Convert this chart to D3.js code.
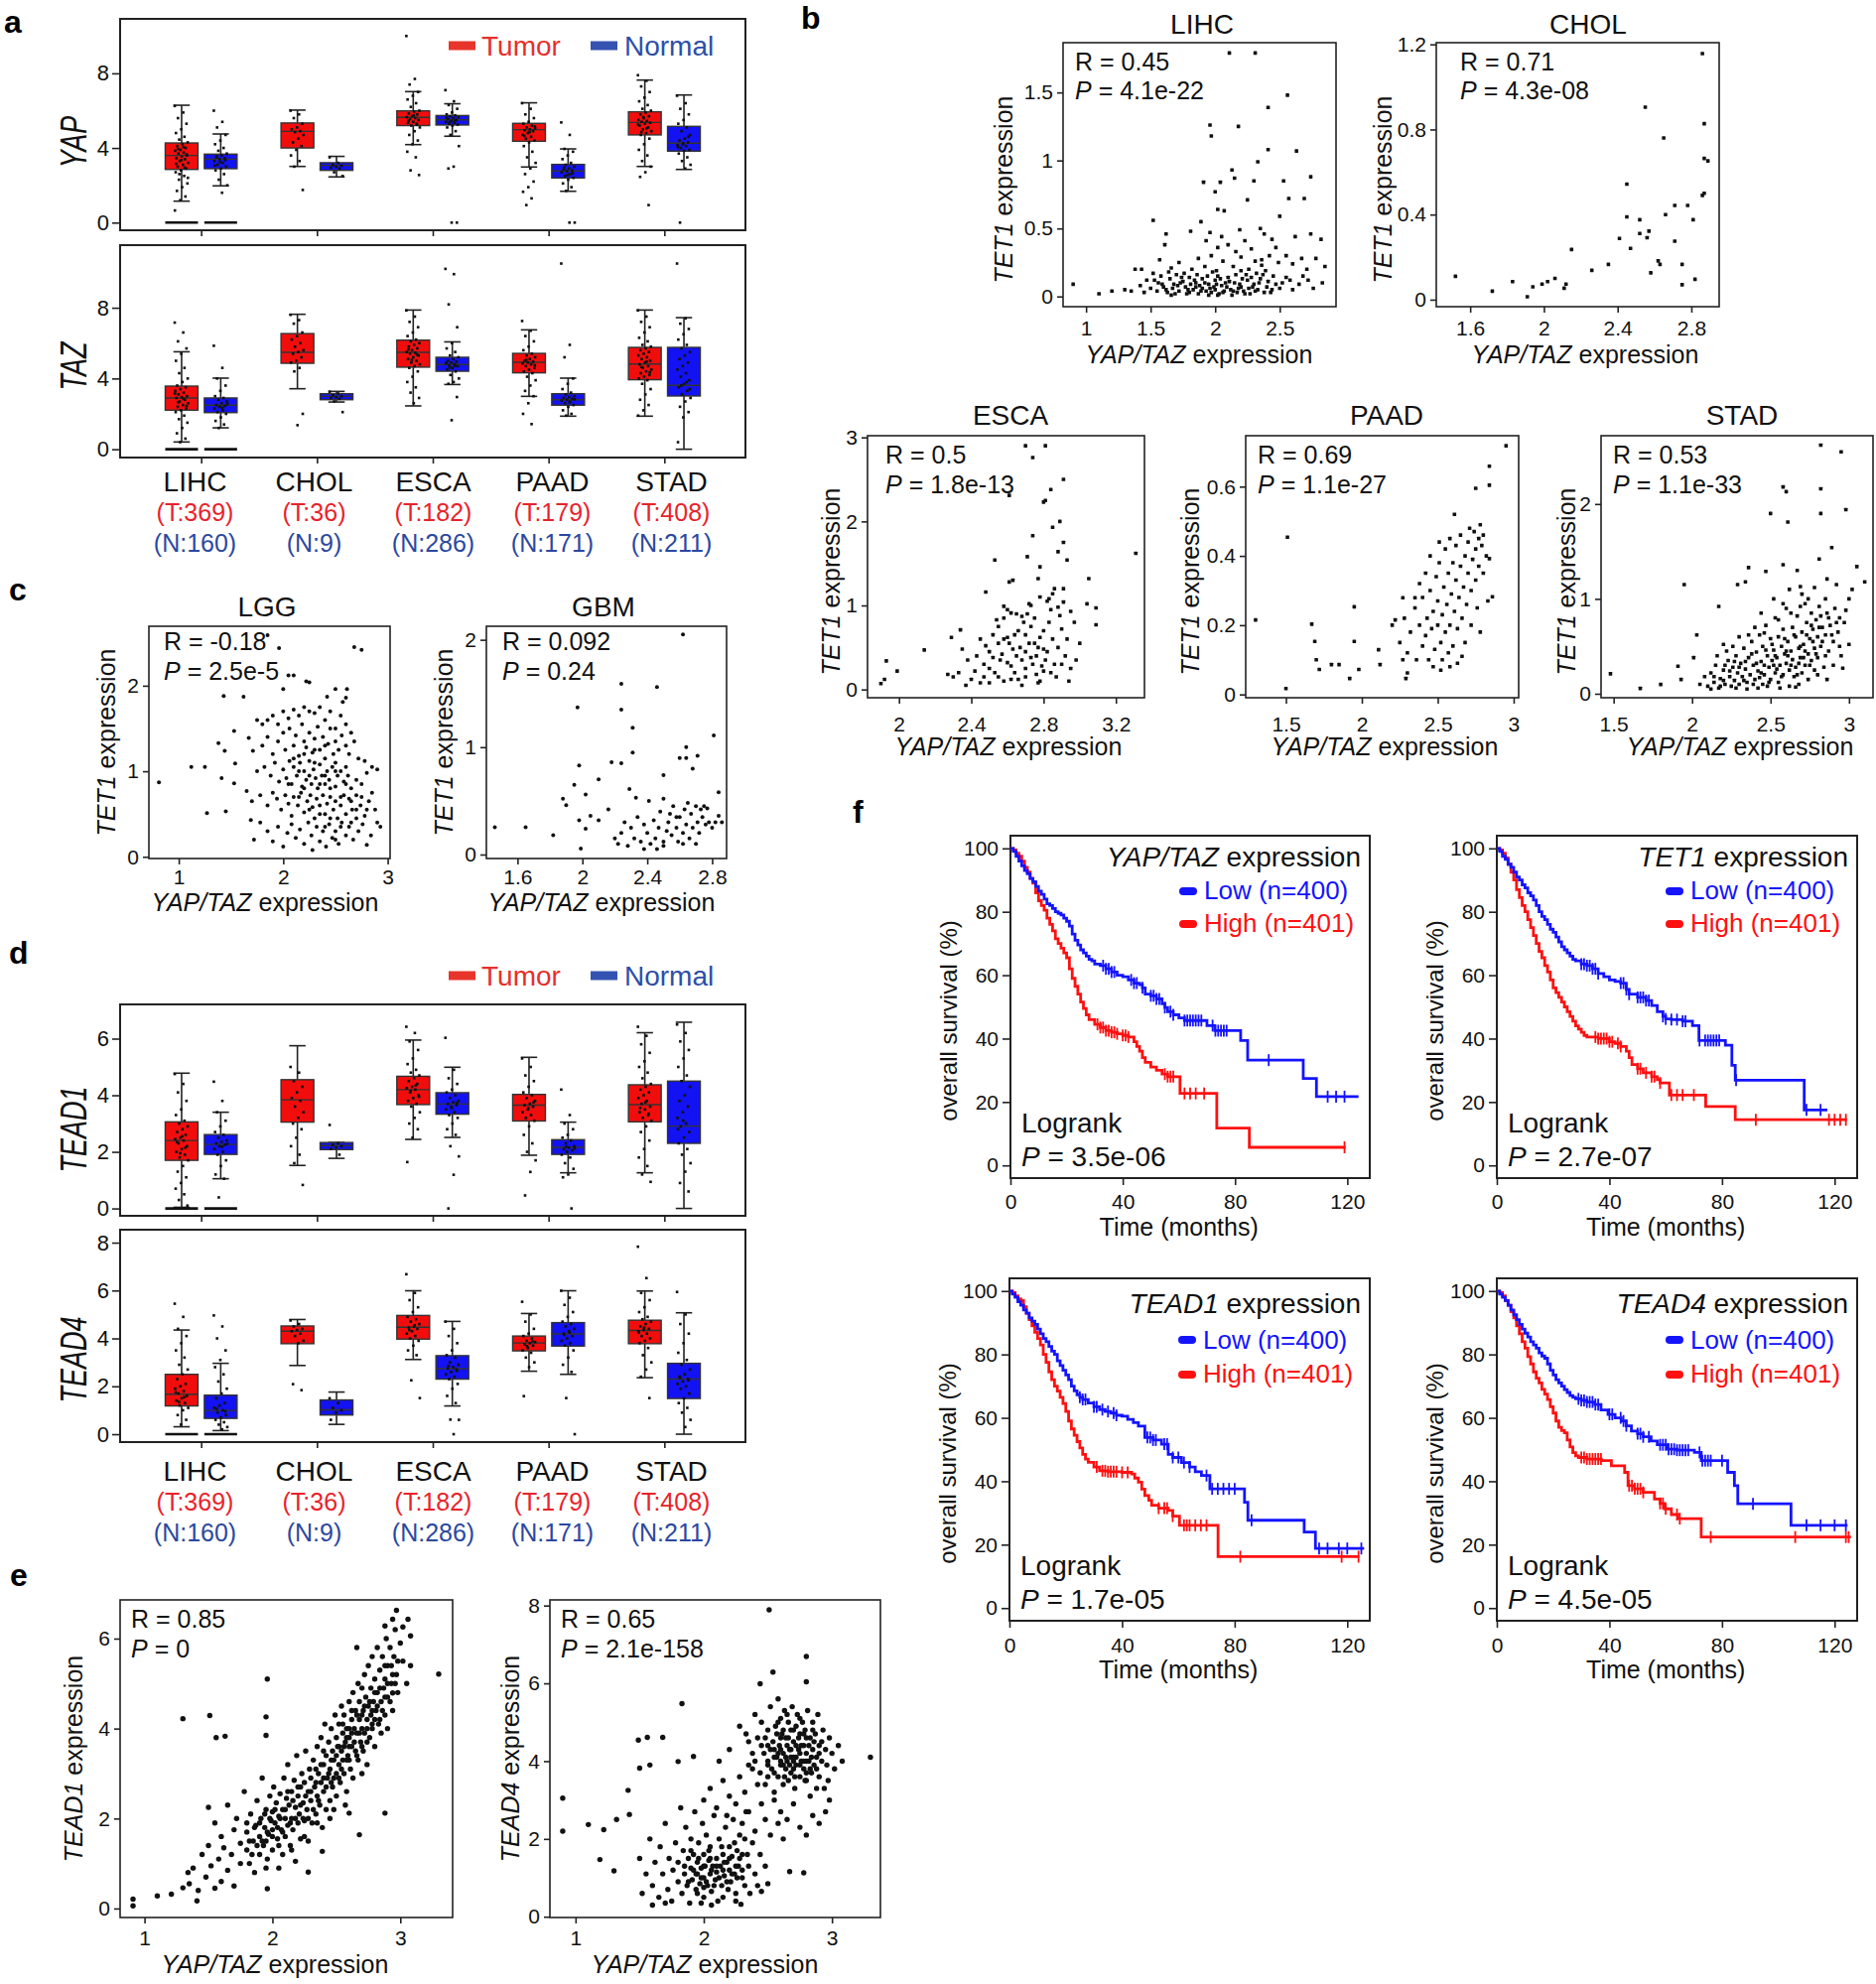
<!DOCTYPE html>
<html>
<head>
<meta charset="utf-8">
<script src="https://cdn.jsdelivr.net/npm/d3@7/dist/d3.min.js"></script>
<style>
html,body{margin:0;padding:0;background:#fff;}
svg{display:block;}
</style>
</head>
<body>
<svg id="fig" width="1890" height="1999" xmlns="http://www.w3.org/2000/svg"></svg>
<script>
// ================= DATA =================
const cancers = ["LIHC","CHOL","ESCA","PAAD","STAD"];
const tumorN  = [369,36,182,179,408];
const normalN = [160,9,286,171,211];

// box stats, order LIHC-T, LIHC-N, CHOL-T, CHOL-N, ... : [q1, median, q3, whiskerLow, whiskerHigh]
const yapStats = [[2.85,3.60,4.27,1.15,6.29],[2.89,3.40,3.67,1.97,4.75],[4.00,4.89,5.34,3.01,6.03],[2.80,3.07,3.21,2.45,3.55],[5.20,5.64,5.99,4.18,7.02],[5.23,5.51,5.74,4.63,6.37],[4.36,4.98,5.32,2.98,6.42],[2.39,2.77,3.12,1.68,3.95],[4.70,5.37,5.94,3.01,7.64],[3.83,4.26,5.16,2.85,6.84]];
const tazStats = [[2.21,2.90,3.57,0.41,5.51],[2.07,2.49,2.90,1.21,4.02],[4.86,5.48,6.54,3.42,7.63],[2.80,2.99,3.14,2.67,3.27],[4.64,5.48,6.17,2.45,7.87],[4.41,4.79,5.20,3.66,6.07],[4.32,4.92,5.42,2.99,6.75],[2.49,2.80,3.14,1.87,4.02],[3.93,4.82,5.76,1.87,7.87],[3.01,3.61,5.76,0,7.44]];
const tead1Stats = [[1.70,2.40,3.06,0.04,4.78],[1.91,2.26,2.61,1.05,3.40],[3.05,3.84,4.55,1.52,5.75],[2.08,2.22,2.33,1.77,2.33],[3.67,4.20,4.67,2.44,5.95],[3.33,3.69,4.09,2.51,4.99],[3.09,3.65,4.03,1.88,5.34],[1.91,2.16,2.43,1.26,3.05],[3.06,3.67,4.37,1.26,6.21],[2.30,2.91,4.50,0,6.58]];
const tead4Stats = [[1.18,1.67,2.50,0.31,4.35],[0.66,0.99,1.63,0.15,2.96],[3.78,4.30,4.52,2.87,4.79],[0.80,1.02,1.43,0.41,1.76],[3.97,4.47,4.96,3.12,5.99],[2.30,2.74,3.28,1.18,4.71],[3.48,3.81,4.10,2.63,5.04],[3.68,4.19,4.66,2.50,5.99],[3.78,4.33,4.76,2.36,5.98],[1.49,2.30,2.96,0,5.07]];
// boxes with a dense row of zero values
const yapZero = [1,1,0,0,0,0,0,0,0,0];
const tazZero = [1,1,0,0,0,0,0,0,0,0];
const tead1Zero = [1,1,0,0,0,0,0,0,0,0];
const tead4Zero = [1,1,0,0,0,0,0,0,0,0];

// jittered sample values per box
const yapPts = [
 [6.25,5.9,5.6,5.3,5.0,4.8,4.6,4.45,4.3,4.2,4.1,4.0,3.9,3.85,3.75,3.7,3.6,3.55,3.45,3.4,3.3,3.2,3.1,3.0,2.9,2.8,2.7,2.5,2.3,2.1,1.9,1.7,1.4,1.2,0.65,4.05,3.95,3.65,3.35,3.15,2.95,2.6,2.4],
 [6.0,5.4,5.1,4.7,4.4,4.2,4.0,3.85,3.7,3.6,3.5,3.45,3.4,3.3,3.2,3.1,3.0,2.9,2.8,2.6,2.3,2.0,1.6,3.55,3.35,3.25,3.05],
 [6.0,5.8,5.6,5.3,5.1,5.0,4.9,4.85,4.7,4.5,4.3,4.1,3.9,3.6,3.3,3.0,1.75],
 [3.5,3.2,3.1,3.05,3.0,2.95,2.9,2.7,2.5],
 [10.0,7.7,7.4,7.0,6.8,6.6,6.4,6.2,6.0,5.95,5.85,5.8,5.7,5.65,5.6,5.55,5.5,5.4,5.35,5.3,5.2,5.1,4.9,4.7,4.4,4.2,3.8,3.5,2.8,2.55,5.75,5.45,5.25],
 [7.1,6.5,6.3,6.1,5.9,5.8,5.75,5.7,5.65,5.6,5.55,5.5,5.45,5.4,5.35,5.3,5.25,5.2,5.1,4.9,4.7,4.1,3.0,2.9,0,0,5.62,5.48,5.38],
 [6.4,6.1,5.8,5.6,5.4,5.3,5.2,5.1,5.05,5.0,4.95,4.9,4.8,4.7,4.6,4.5,4.4,4.3,4.1,3.8,3.5,3.2,2.9,2.6,2.2,1.9,1.65,1.3,0.94,5.15,4.85,4.65],
 [5.37,4.7,3.95,3.8,3.6,3.4,3.2,3.1,3.0,2.9,2.85,2.8,2.75,2.7,2.6,2.5,2.4,2.3,2.1,1.9,1.7,0,0,2.95,2.65,2.55],
 [7.9,7.6,7.3,7.0,6.7,6.5,6.3,6.1,6.0,5.9,5.8,5.7,5.6,5.5,5.45,5.4,5.35,5.3,5.2,5.1,5.0,4.9,4.8,4.7,4.5,4.2,3.9,3.6,3.3,3.0,2.7,2.45,0.94,5.65,5.25,5.05,4.85],
 [6.8,6.4,6.1,5.8,5.5,5.3,5.1,4.9,4.7,4.5,4.4,4.3,4.2,4.15,4.1,4.0,3.9,3.85,3.7,3.5,3.3,3.1,2.9,0,4.6,4.25,4.05]
];
const tazPts = [
 [7.16,6.6,6.1,5.7,5.4,5.0,4.6,4.3,4.0,3.8,3.6,3.5,3.4,3.3,3.2,3.1,3.0,2.95,2.9,2.8,2.7,2.6,2.5,2.4,2.3,2.2,2.1,1.9,1.7,1.5,1.2,0.9,0.6,0.4,3.15,2.85,2.65,2.45],
 [5.85,4.6,4.0,3.6,3.3,3.0,2.9,2.8,2.7,2.6,2.5,2.45,2.4,2.3,2.2,2.1,2.0,1.8,1.6,1.4,1.2,2.55,2.35],
 [7.6,7.3,7.1,6.6,6.4,6.2,6.0,5.8,5.6,5.5,5.4,5.2,5.0,4.9,4.6,4.4,2.0,1.36],
 [3.25,3.15,3.05,3.0,2.95,2.9,2.85,2.7,2.1],
 [7.85,7.5,7.2,6.9,6.6,6.4,6.2,6.1,6.0,5.9,5.8,5.7,5.6,5.5,5.45,5.4,5.3,5.2,5.1,5.0,4.9,4.8,4.7,4.6,4.4,4.1,3.8,3.5,3.2,2.9,2.6,5.65,5.35,5.05],
 [10.2,9.9,8.19,6.9,6.0,5.7,5.5,5.3,5.2,5.1,5.0,4.95,4.9,4.85,4.8,4.75,4.7,4.6,4.5,4.4,4.2,4.0,3.8,3.7,2.95,1.64,4.88,4.72,4.62],
 [7.25,6.7,6.4,6.1,5.8,5.6,5.4,5.3,5.2,5.1,5.0,4.95,4.9,4.85,4.8,4.7,4.6,4.5,4.4,4.3,4.1,3.9,3.6,3.3,3.0,2.6,2.0,1.42,5.05,4.75],
 [10.5,5.9,5.2,4.0,3.7,3.4,3.2,3.1,3.0,2.95,2.9,2.85,2.8,2.75,2.7,2.6,2.5,2.4,2.2,2.0,1.9,2.82,2.65],
 [7.85,7.5,7.2,6.9,6.6,6.3,6.1,5.9,5.8,5.7,5.6,5.5,5.4,5.3,5.2,5.1,5.0,4.9,4.8,4.7,4.6,4.5,4.4,4.3,4.2,4.1,4.0,3.9,3.7,3.4,3.1,2.8,2.5,2.2,1.9,4.95,4.65,4.35],
 [10.5,7.4,7.1,6.8,6.5,6.2,5.9,5.7,5.5,5.3,5.1,4.9,4.7,4.5,4.3,4.1,3.9,3.7,3.5,3.3,3.1,2.9,2.7,2.4,2.1,1.8,0.4,3.8,3.6,3.4]
];
const tead1Pts = [
 [4.75,4.4,4.1,3.8,3.5,3.3,3.1,3.0,2.9,2.8,2.7,2.6,2.5,2.45,2.4,2.3,2.2,2.1,2.0,1.9,1.8,1.7,1.5,1.3,1.1,0.9,0.7,0.5,0.3,0.1,2.55,2.35,2.15,1.95],
 [4.48,3.8,3.4,3.1,2.9,2.7,2.6,2.5,2.4,2.35,2.3,2.25,2.2,2.1,2.0,1.9,1.7,1.5,1.2,1.05,0.39,2.28,2.18],
 [5.0,4.8,4.5,4.3,4.1,3.9,3.8,3.6,3.4,3.2,3.0,2.8,2.5,2.2,1.9,1.6,0.83],
 [2.95,2.3,2.25,2.2,2.15,2.1,1.9],
 [6.42,6.2,5.9,5.6,5.3,5.1,4.9,4.8,4.7,4.6,4.5,4.4,4.3,4.25,4.2,4.1,4.0,3.9,3.8,3.7,3.6,3.4,3.2,3.0,2.8,2.5,1.64,4.35,4.15,3.95],
 [6.03,4.9,4.6,4.4,4.2,4.1,4.0,3.9,3.8,3.75,3.7,3.65,3.6,3.5,3.4,3.3,3.2,3.0,2.8,2.6,2.2,1.84,1.19,0,3.72,3.55],
 [5.3,5.0,4.7,4.5,4.3,4.1,4.0,3.9,3.8,3.7,3.65,3.6,3.5,3.4,3.3,3.2,3.1,2.9,2.6,2.3,2.0,1.7,1.29,0.46,3.75,3.55],
 [4.2,3.3,3.0,2.8,2.6,2.5,2.4,2.3,2.2,2.15,2.1,2.05,2.0,1.9,1.8,1.6,1.4,1.2,1.1,0,2.18,2.12],
 [6.42,6.1,5.8,5.5,5.2,5.0,4.8,4.6,4.4,4.3,4.2,4.1,4.0,3.9,3.8,3.7,3.6,3.5,3.4,3.3,3.2,3.1,2.9,2.7,2.4,2.1,1.8,1.5,1.2,0.94,3.75,3.55,3.35],
 [6.5,6.2,5.9,5.6,5.3,5.0,4.7,4.5,4.3,4.0,3.8,3.6,3.4,3.2,3.0,2.9,2.7,2.5,2.3,2.1,1.9,1.6,1.3,0.9,0.6,3.1,2.8]
];
const tead4Pts = [
 [5.45,4.9,4.4,4.1,3.8,3.5,3.2,2.9,2.7,2.5,2.3,2.1,2.0,1.9,1.8,1.7,1.6,1.5,1.4,1.3,1.2,1.1,1.0,0.8,0.6,0.4,1.75,1.55,1.35],
 [4.96,4.5,4.0,3.5,3.1,2.8,2.5,2.2,1.9,1.7,1.5,1.3,1.2,1.1,1.0,0.9,0.8,0.7,0.6,0.5,0.4,0.3,0.2,1.05,0.95],
 [4.75,4.6,4.5,4.4,4.35,4.3,4.2,4.1,3.9,3.8,2.09,1.84],
 [1.5,1.3,1.1,1.0,0.9,0.6],
 [6.68,5.9,5.6,5.3,5.1,4.9,4.8,4.7,4.6,4.5,4.45,4.4,4.3,4.2,4.1,4.0,3.9,3.7,3.5,3.3,2.25,1.51,4.55,4.35],
 [4.7,4.4,4.1,3.8,3.5,3.3,3.2,3.0,2.9,2.8,2.75,2.7,2.6,2.5,2.4,2.3,2.1,1.9,1.6,1.3,0.61,0.6,0,2.85,2.65],
 [5.53,5.0,4.7,4.4,4.2,4.1,4.0,3.9,3.85,3.8,3.75,3.7,3.6,3.5,3.4,3.2,3.0,2.8,1.59,3.88,3.68],
 [5.99,5.7,5.4,5.1,4.9,4.7,4.6,4.5,4.4,4.3,4.2,4.1,4.0,3.9,3.8,3.7,3.5,3.2,2.9,2.6,1.51,0,4.25,4.15],
 [7.83,6.52,5.9,5.6,5.3,5.1,4.9,4.8,4.7,4.6,4.5,4.4,4.35,4.3,4.2,4.1,4.0,3.9,3.8,3.6,3.3,3.0,2.7,2.4,1.51,4.45,4.25],
 [5.94,5.0,4.6,4.2,3.8,3.4,3.1,2.9,2.7,2.5,2.4,2.3,2.2,2.1,2.0,1.9,1.7,1.5,1.3,1.1,0.9,0.6,0.3,2.35,2.25]
];

// scatter points, flat [x, y, x, y, ...]
const lihcPts = [2.11,1.79,2.31,1.79,2.56,1.48,2.41,1.39,1.96,1.26,2.18,1.25,1.97,1.18,2.41,1.08,2.63,1.07,2.33,0.99,2.13,0.93,1.91,0.84,2.04,0.84,2.15,0.87,2.30,0.85,2.53,0.85,2.74,0.88,2.0,0.77,2.25,0.71,2.57,0.72,2.69,0.72,2.02,0.64,2.07,0.63,2.5,0.59,1.52,0.56,1.89,0.55,1.81,0.48,1.62,0.46,1.96,0.47,2.05,0.44,2.19,0.49,2.35,0.5,2.38,0.46,2.44,0.42,2.62,0.44,2.82,0.42,2.74,0.46,
1.61,0.38,1.93,0.41,2.02,0.36,2.1,0.38,2.16,0.33,2.23,0.41,2.28,0.35,2.47,0.36,2.55,0.3,2.67,0.28,2.78,0.28,1.57,0.27,1.72,0.25,1.87,0.28,1.97,0.3,2.06,0.26,2.14,0.22,2.2,0.29,2.31,0.26,2.36,0.23,2.42,0.3,2.49,0.25,2.6,0.24,2.71,0.2,2.85,0.22,1.66,0.21,1.82,0.2,1.92,0.22,2.01,0.19,2.26,0.2,2.39,0.19,
1.38,0.2,1.43,0.2,1.52,0.17,1.58,0.15,1.65,0.13,1.7,0.16,1.75,0.11,1.8,0.14,1.85,0.1,1.9,0.13,1.95,0.09,2.0,0.12,2.05,0.08,2.1,0.14,2.15,0.1,2.2,0.07,2.25,0.12,2.3,0.09,2.35,0.13,2.4,0.07,2.45,0.15,2.52,0.1,2.58,0.12,2.65,0.09,2.72,0.12,2.83,0.1,
1.5,0.06,1.55,0.04,1.6,0.07,1.63,0.03,1.67,0.06,1.72,0.04,1.77,0.07,1.8,0.03,1.83,0.05,1.87,0.02,1.9,0.06,1.93,0.04,1.97,0.03,2.0,0.05,2.03,0.02,2.07,0.04,2.12,0.05,2.17,0.03,2.22,0.04,2.27,0.02,2.33,0.05,2.38,0.03,1.45,0.03,1.35,0.04,1.3,0.05,1.2,0.04,1.1,0.02,0.9,0.09,1.42,0.08,1.56,0.1,1.68,0.09,1.73,0.1,1.88,0.08,1.99,0.07,2.08,0.1,2.18,0.06,2.29,0.07,2.44,0.05,2.5,0.06,1.62,0.05,1.78,0.02,1.95,0.01,2.13,0.01,1.69,0.02,1.84,0.12,2.02,0.15,2.24,0.16,2.32,0.17,1.76,0.17,1.98,0.18,
1.53,0.12,1.59,0.09,1.64,0.18,1.71,0.08,1.74,0.14,1.79,0.05,1.81,0.09,1.86,0.16,1.89,0.04,1.92,0.1,1.94,0.15,1.96,0.06,2.01,0.09,2.04,0.13,2.06,0.03,2.09,0.07,2.11,0.11,2.14,0.04,2.16,0.16,2.19,0.09,2.21,0.13,2.23,0.02,2.26,0.06,2.28,0.14,2.31,0.04,2.34,0.1,2.37,0.16,2.41,0.11,2.43,0.03,2.47,0.09,2.55,0.14,2.6,0.05,2.68,0.15,2.76,0.06,1.47,0.12,1.66,0.01,1.85,0.07,2.02,0.01,2.2,0.19,2.36,0.27];
const cholPts = [1.52,0.11,1.72,0.04,1.83,0.085,1.91,0.014,1.94,0.06,1.99,0.073,2.02,0.085,2.06,0.1,2.11,0.054,2.12,0.073,2.15,0.236,2.26,0.138,2.35,0.166,2.41,0.288,2.45,0.543,2.45,0.389,2.47,0.241,2.52,0.376,2.52,0.311,2.56,0.291,2.55,0.905,2.57,0.322,2.58,0.126,2.62,0.182,2.63,0.166,2.65,0.76,2.66,0.4,2.71,0.443,2.71,0.275,2.75,0.07,2.75,0.166,2.78,0.443,2.81,0.376,2.82,0.096,2.86,1.157,2.87,0.827,2.87,0.664,2.89,0.652,2.87,0.5,2.86,0.49];
const escaPts = [2.7,2.9,2.81,2.9,2.74,2.76,2.91,2.5,2.84,2.38,2.61,2.31,2.81,2.25,2.8,2.23,2.85,1.93,2.89,2.0,2.74,1.83,2.91,1.75,3.31,1.62,2.53,1.54,2.71,1.58,2.88,1.64,2.93,1.54,2.78,1.46,2.48,1.16,2.63,1.3,2.77,1.32,3.05,1.32,2.61,1.28,2.91,1.2,2.85,1.14,2.83,1.08,2.91,1.04,2.72,1.02,3.04,1.02,3.09,0.97,2.95,0.93,3.09,0.77,2.58,0.99,2.62,0.91,2.68,0.87,2.54,0.83,2.34,0.71,2.29,0.62,2.14,0.47,1.93,0.34,1.99,0.22,1.92,0.12,1.9,0.07,
2.45,0.6,2.48,0.52,2.5,0.45,2.52,0.38,2.47,0.3,2.5,0.25,2.53,0.2,2.55,0.15,2.58,0.1,2.6,0.32,2.57,0.42,2.55,0.55,2.6,0.62,2.63,0.48,2.65,0.4,2.62,0.28,2.64,0.2,2.66,0.12,2.68,0.05,2.7,0.25,2.68,0.35,2.7,0.45,2.72,0.55,2.7,0.65,2.73,0.75,2.75,0.85,2.74,0.3,2.76,0.4,2.77,0.5,2.78,0.62,2.76,0.18,2.78,0.1,2.8,0.22,2.81,0.35,2.82,0.45,2.8,0.7,2.83,0.8,2.84,0.95,2.85,0.6,2.86,0.3,2.87,0.15,2.88,0.5,2.9,0.72,2.89,0.88,2.92,0.4,2.93,0.6,2.95,0.25,2.43,0.4,2.42,0.22,2.4,0.12,2.38,0.35,2.37,0.05,2.33,0.2,2.3,0.15,2.27,0.18,2.35,0.48,2.55,0.75,2.58,0.85,2.6,0.95,2.52,0.65,2.66,0.7,2.69,0.8,2.71,0.9,2.73,1.0,2.78,1.1,2.82,1.05,2.86,1.2,2.88,0.98,2.97,0.8,3.0,0.55,2.98,0.35,2.5,0.08,2.56,0.35,2.61,0.55,2.64,0.65,2.67,0.5,2.7,0.15,2.73,0.38,2.79,0.28,2.84,0.2,2.47,0.15,2.45,0.08,2.65,0.9,2.58,0.6,2.62,0.12,2.75,0.55,2.8,0.48,2.9,0.3,2.94,0.1,2.77,0.08];
const paadPts = [2.95,0.718,2.84,0.659,2.75,0.595,2.84,0.604,1.51,0.454,1.3,0.215,1.5,0.017,1.67,0.203,1.69,0.153,1.7,0.1,1.72,0.072,1.8,0.086,1.85,0.086,1.95,0.253,1.95,0.153,1.92,0.046,1.98,0.072,2.11,0.129,2.12,0.086,2.22,0.215,2.27,0.279,2.3,0.062,2.29,0.046,2.27,0.1,2.35,0.279,2.52,0.07,2.78,0.18,2.86,0.282,2.84,0.392,
2.2,0.2,2.25,0.15,2.28,0.22,2.3,0.12,2.32,0.18,2.35,0.25,2.36,0.1,2.38,0.2,2.4,0.14,2.4,0.28,2.42,0.17,2.43,0.22,2.44,0.1,2.45,0.3,2.46,0.19,2.47,0.24,2.48,0.13,2.49,0.34,2.5,0.2,2.5,0.27,2.51,0.38,2.52,0.15,2.53,0.23,2.54,0.31,2.55,0.42,2.55,0.18,2.56,0.26,2.57,0.35,2.58,0.2,2.58,0.45,2.59,0.29,2.6,0.38,2.6,0.14,2.61,0.24,2.62,0.33,2.62,0.43,2.63,0.19,2.64,0.28,2.65,0.37,2.65,0.46,2.66,0.22,2.67,0.31,2.68,0.4,2.68,0.15,2.69,0.26,2.7,0.35,2.7,0.44,2.71,0.48,2.72,0.3,2.72,0.2,2.73,0.39,2.74,0.47,2.75,0.42,2.75,0.33,2.76,0.25,2.77,0.45,2.77,0.37,2.78,0.49,2.79,0.43,2.8,0.46,2.8,0.35,2.82,0.4,2.83,0.27,2.57,0.12,2.53,0.1,2.47,0.08,2.63,0.09,2.66,0.11,2.45,0.4,2.42,0.35,2.38,0.32,2.58,0.08,2.51,0.44,2.61,0.52];
const stadPts = [2.82,2.62,2.95,2.55,2.58,2.18,2.6,2.13,2.82,2.16,2.5,1.9,2.82,1.9,2.98,1.94,2.61,1.81,2.89,1.54,3.05,1.34,3.1,1.18,2.81,1.42,2.36,1.33,1.95,1.15,1.48,0.21,1.67,0.056,1.8,0.098,1.91,0.29,1.93,0.15,2.01,0.38,2.03,0.62,2.17,0.92,2.2,0.52,2.29,1.15,2.34,1.18,2.47,1.29,2.58,1.36,2.67,1.3,2.69,1.13,2.86,1.21,2.92,1.15,3.0,1.0,2.94,0.8,3.0,0.52,2.96,0.27,
2.05,0.1,2.08,0.18,2.1,0.08,2.12,0.22,2.14,0.12,2.15,0.3,2.17,0.06,2.18,0.16,2.2,0.25,2.21,0.1,2.23,0.35,2.24,0.18,2.25,0.08,2.26,0.28,2.27,0.14,2.28,0.4,2.29,0.22,2.3,0.1,2.31,0.32,2.32,0.18,2.33,0.48,2.34,0.26,2.35,0.12,2.36,0.38,2.37,0.2,2.38,0.55,2.39,0.3,2.4,0.15,2.41,0.44,2.42,0.24,2.43,0.62,2.44,0.34,2.45,0.1,2.45,0.5,2.46,0.2,2.47,0.72,2.48,0.4,2.49,0.28,2.5,0.58,2.5,0.15,2.51,0.35,2.52,0.46,2.53,0.22,2.53,0.8,2.54,0.38,2.55,0.6,2.55,0.12,2.56,0.3,2.57,0.5,2.58,0.68,2.58,0.2,2.59,0.42,2.6,0.9,2.6,0.32,2.61,0.55,2.62,0.08,2.62,0.25,2.63,0.45,2.64,0.7,2.64,0.36,2.65,0.18,2.66,0.6,2.66,0.28,2.67,0.82,2.68,0.48,2.68,0.1,2.69,0.38,2.7,0.65,2.7,0.22,2.71,0.52,2.72,0.95,2.72,0.3,2.73,0.75,2.74,0.42,2.74,0.15,2.75,0.58,2.76,0.85,2.76,0.35,2.77,0.68,2.78,0.25,2.78,0.48,2.79,0.78,2.8,0.6,2.8,0.38,2.81,0.92,2.82,0.5,2.83,0.7,2.84,0.28,2.85,0.62,2.86,0.85,2.87,0.45,2.88,0.72,2.9,0.55,2.91,0.9,2.93,0.65,2.95,0.4,2.97,0.75,2.35,0.05,2.42,0.06,2.48,0.08,2.56,0.06,2.66,0.07,2.22,0.45,2.3,0.6,2.4,0.7,2.44,0.85,2.52,1.0,2.58,0.95,2.62,1.1,2.7,1.05,2.78,1.12,2.85,1.0,2.16,0.4,2.12,0.05,2.26,0.5,2.36,0.62,2.46,0.64,2.55,0.78,2.63,0.85,2.69,0.92,2.74,1.0,2.8,0.2,2.86,0.15,2.9,0.3,2.94,0.5,2.98,0.88,3.02,1.1,2.2,0.14,2.28,0.06,2.34,0.34,2.44,0.22,2.52,0.3,
2.3,0.28,2.33,0.14,2.38,0.42,2.41,0.32,2.43,0.17,2.47,0.46,2.49,0.12,2.51,0.52,2.54,0.26,2.57,0.18,2.59,0.58,2.61,0.4,2.63,0.3,2.65,0.62,2.67,0.2,2.69,0.5,2.71,0.38,2.73,0.62,2.75,0.3,2.77,0.55,2.79,0.42,2.81,0.7,2.83,0.55,2.85,0.4,2.87,0.8,2.89,0.62,2.21,0.3,2.24,0.24,2.27,0.34,2.39,0.1,2.46,0.3,2.53,0.4,2.6,0.45,2.68,0.32,2.72,0.45,2.76,0.72,2.82,0.82,2.92,0.75,2.18,0.08,2.14,0.18];
const lggPts = [0.81,0.87,1.12,1.05,1.25,1.05,1.27,0.51,1.38,1.33,1.41,0.92,1.43,1.88,1.44,1.24,1.45,0.53,1.53,1.47,1.53,0.86,1.54,1.09,1.62,1.87,1.65,0.77,1.67,1.39,1.69,0.43,1.71,1.24,1.85,2.59,1.96,2.44,2.68,2.45,2.75,2.42,2.05,2.12,2.1,2.12,2.22,2.05,2.0,1.96,2.25,2.04,2.42,1.87,2.5,1.96,2.61,1.96,2.6,1.86,2.57,1.81,
1.75,1.6,1.8,1.55,1.85,1.6,1.9,1.65,1.95,1.55,2.0,1.7,2.05,1.62,2.1,1.72,2.15,1.65,2.2,1.75,2.25,1.7,2.3,1.68,2.35,1.75,2.4,1.6,2.45,1.7,2.5,1.5,2.55,1.65,2.6,1.55,2.65,1.45,
1.8,1.3,1.85,1.4,1.9,1.2,1.95,1.35,2.0,1.45,2.02,1.25,2.06,1.5,2.1,1.3,2.12,1.42,2.15,1.18,2.18,1.55,2.2,1.35,2.22,1.28,2.25,1.45,2.28,1.22,2.3,1.38,2.33,1.52,2.35,1.25,2.38,1.4,2.4,1.15,2.43,1.32,2.45,1.5,2.48,1.2,2.5,1.35,2.53,1.25,2.56,1.42,2.6,1.3,2.63,1.2,2.68,1.35,2.72,1.15,2.78,1.12,
1.75,1.0,1.82,1.05,1.88,0.95,1.92,1.1,1.96,0.88,2.0,1.02,2.03,0.92,2.06,1.12,2.08,0.85,2.1,1.05,2.13,0.95,2.16,1.1,2.18,0.82,2.2,1.0,2.22,0.9,2.25,1.12,2.27,0.85,2.29,1.02,2.31,0.92,2.33,0.8,2.35,1.08,2.37,0.95,2.4,0.85,2.42,1.0,2.44,0.9,2.47,1.05,2.5,0.82,2.52,0.95,2.55,1.0,2.58,0.88,2.62,0.95,2.65,0.8,2.7,0.9,2.75,0.85,2.8,0.98,2.85,1.05,2.9,1.02,
1.7,0.65,1.78,0.72,1.85,0.6,1.9,0.75,1.94,0.68,1.98,0.55,2.02,0.72,2.05,0.62,2.08,0.48,2.1,0.7,2.14,0.6,2.17,0.75,2.2,0.52,2.23,0.65,2.26,0.72,2.28,0.58,2.3,0.45,2.32,0.68,2.35,0.6,2.38,0.72,2.4,0.5,2.42,0.62,2.45,0.7,2.48,0.55,2.5,0.65,2.52,0.45,2.55,0.6,2.58,0.72,2.6,0.5,2.63,0.68,2.66,0.55,2.7,0.72,2.74,0.6,2.78,0.48,2.82,0.65,2.85,0.75,2.88,0.55,
1.72,0.2,1.78,0.4,1.85,0.3,1.9,0.18,1.95,0.35,2.0,0.12,2.04,0.28,2.08,0.38,2.12,0.22,2.16,0.32,2.2,0.15,2.24,0.4,2.27,0.25,2.28,0.08,2.32,0.35,2.35,0.18,2.38,0.3,2.41,0.12,2.44,0.38,2.47,0.22,2.5,0.3,2.53,0.15,2.56,0.4,2.6,0.25,2.63,0.35,2.67,0.2,2.72,0.3,2.76,0.38,2.8,0.14,2.84,0.25,2.9,0.4,2.93,0.35,
2.1,1.15,2.15,1.0,2.2,0.8,2.25,0.95,2.3,1.1,2.35,0.85,2.4,0.95,2.45,0.8,2.5,1.0,2.55,0.7,2.6,0.85,2.65,0.65,2.7,0.55,2.75,0.7,2.2,1.2,2.3,1.25,2.4,1.3,2.5,1.1,2.6,1.05,2.35,0.5,2.45,0.45,2.55,0.35,2.65,0.4,2.7,0.45,2.8,0.55,2.05,0.85,2.15,0.7,2.25,0.55,2.4,0.35,2.5,0.2];
const gbmPts = [1.46,0.255,1.65,0.255,1.82,0.18,1.88,0.52,1.9,0.46,1.95,0.65,1.97,1.37,1.98,0.83,1.98,0.32,1.99,0.055,2.02,0.56,2.02,0.24,2.05,0.36,2.1,0.7,2.1,0.32,2.16,0.42,2.18,0.86,2.24,1.59,2.24,1.35,2.31,1.18,2.31,0.95,2.24,0.85,2.46,1.56,2.62,2.05,2.81,1.11,2.64,1.0,2.6,0.9,2.64,0.9,2.71,0.92,2.68,0.8,2.5,0.74,2.84,0.58,2.29,0.61,2.33,0.53,2.41,0.5,2.5,0.52,
2.2,0.15,2.22,0.1,2.24,0.2,2.26,0.3,2.28,0.08,2.3,0.25,2.32,0.15,2.34,0.35,2.36,0.12,2.38,0.28,2.4,0.2,2.42,0.1,2.44,0.32,2.45,0.15,2.47,0.25,2.48,0.4,2.5,0.12,2.52,0.22,2.53,0.3,2.55,0.18,2.56,0.45,2.58,0.25,2.59,0.12,2.6,0.35,2.62,0.2,2.63,0.42,2.64,0.28,2.66,0.15,2.67,0.38,2.68,0.25,2.7,0.45,2.71,0.3,2.72,0.2,2.73,0.42,2.74,0.35,2.75,0.45,2.76,0.28,2.77,0.43,2.78,0.3,2.8,0.25,2.82,0.3,2.84,0.36,2.86,0.3,2.5,0.08,2.46,0.05,2.38,0.05,2.58,0.35,2.65,0.48,2.7,0.1,2.62,0.1,2.54,0.38];
const tead1ScPts = [0.91,0.06,0.91,0.21,1.1,0.28,1.21,0.32,1.3,0.46,1.34,0.8,1.41,0.17,1.3,4.22,1.51,4.29,1.56,3.8,1.63,3.83,1.96,5.1,1.95,4.26,1.95,3.85,1.96,0.44,2.66,5.8,3.3,5.21,2.88,2.12,2.68,1.64,2.28,0.81,2.39,1.27,2.6,2.12,2.94,4.79,2.97,6.63,3.06,6.43,3.02,6.26,3.08,6.06,2.94,6.43,2.88,6.28,
1.35,0.55,1.38,0.9,1.42,0.4,1.45,1.2,1.48,0.7,1.5,1.4,1.5,2.25,1.52,0.95,1.55,0.45,1.55,1.9,1.58,1.1,1.6,0.6,1.6,1.6,1.62,1.35,1.65,0.85,1.65,2.3,1.68,1.2,1.7,0.5,1.7,1.75,1.72,2.0,1.75,1.0,1.75,1.45,
1.78,2.6,1.8,1.3,1.8,1.7,1.82,1.0,1.83,2.1,1.85,1.5,1.86,0.8,1.87,1.85,1.88,2.4,1.9,1.2,1.9,1.6,1.91,2.0,1.92,2.9,1.93,1.4,1.94,1.8,1.95,2.2,1.95,0.9,1.96,1.1,1.97,1.65,1.98,2.5,1.99,1.95,2.0,2.15,2.0,1.3,2.0,1.75,
2.01,2.7,2.02,1.9,2.03,2.35,2.04,1.55,2.05,2.05,2.05,0.9,2.06,2.55,2.07,1.75,2.08,2.2,2.08,1.2,2.09,2.9,2.1,2.0,2.1,1.6,2.11,2.45,2.12,1.85,2.12,3.2,2.13,2.3,2.14,1.4,2.15,2.6,2.15,2.0,2.16,1.75,2.17,2.85,2.18,2.25,2.18,1.05,2.19,3.4,2.2,2.5,2.2,1.9,2.21,2.1,2.22,2.7,2.22,1.55,2.23,3.0,2.24,2.35,2.25,1.95,2.25,2.8,
2.26,3.5,2.27,2.2,2.28,2.6,2.28,1.5,2.29,3.1,2.3,2.4,2.3,2.9,2.31,1.9,2.32,3.3,2.33,2.7,2.34,2.1,2.35,3.6,2.35,2.5,2.36,3.0,2.37,2.3,2.38,3.8,2.38,2.8,2.39,1.8,2.4,3.2,2.4,2.6,2.41,4.1,2.42,3.4,2.42,2.2,2.43,2.9,2.44,3.7,2.45,3.1,2.45,2.4,2.46,4.0,2.47,3.5,2.47,2.7,2.48,3.3,2.49,4.3,2.5,3.0,2.5,3.8,2.5,2.5,
2.51,3.6,2.52,4.1,2.52,3.2,2.53,2.8,2.54,4.5,2.54,3.5,2.55,3.9,2.56,3.0,2.56,4.3,2.57,3.7,2.58,2.6,2.58,4.0,2.59,3.4,2.6,4.6,2.6,3.8,2.61,3.1,2.62,4.2,2.62,3.6,2.63,4.8,2.63,2.9,2.64,4.0,2.65,3.5,2.65,4.4,2.66,3.9,2.67,5.0,2.67,3.3,2.68,4.2,2.68,4.6,2.69,3.7,2.7,4.9,2.7,4.0,2.71,3.5,2.71,4.4,2.72,5.2,2.72,3.9,2.73,4.7,2.74,4.2,2.74,3.2,2.75,5.4,2.75,4.5,
2.76,3.8,2.77,4.9,2.77,4.3,2.78,5.6,2.78,4.0,2.79,4.6,2.8,5.1,2.8,3.6,2.81,4.4,2.82,5.8,2.82,4.8,2.83,4.1,2.84,5.3,2.85,4.6,2.85,3.9,2.86,5.6,2.87,4.9,2.88,5.1,2.88,4.3,2.89,6.0,2.9,5.4,2.9,4.7,2.92,5.8,2.93,5.0,2.94,4.4,2.95,5.6,2.96,6.2,2.97,5.2,2.98,4.8,3.0,5.9,3.02,5.5,3.05,5.0,3.08,5.4,2.6,3.3,2.55,3.3,2.45,2.0,2.35,1.9,2.25,1.6,2.15,1.3,2.05,1.4,1.95,1.5,2.7,3.0,2.8,4.2,2.9,4.0,2.57,2.3,2.48,2.2,
2.3,2.6,2.32,2.2,2.34,2.8,2.36,2.4,2.38,3.2,2.4,2.9,2.42,2.7,2.44,3.0,2.46,3.3,2.48,2.9,2.5,3.4,2.52,3.6,2.54,3.1,2.56,3.6,2.58,3.3,2.6,4.0,2.62,3.9,2.64,3.7,2.66,4.3,2.68,3.9,2.7,4.3,2.72,4.5,2.74,4.0,2.76,4.6,2.78,4.4,2.8,4.8,2.82,4.5,2.84,4.9,2.86,4.4,2.88,4.7,2.9,5.0,2.92,4.6,2.94,5.2,2.96,5.0,2.98,5.5,2.1,2.2,2.12,2.6,2.14,1.9,2.16,2.4,2.18,2.0,2.2,2.7,2.22,2.3,2.24,2.0,2.26,2.5,2.28,2.0,1.9,1.9,1.92,1.5,1.94,2.1,1.96,1.7,1.98,2.0,2.0,1.6,2.02,2.2,2.04,1.8,2.06,2.0,2.08,1.7,1.8,1.9,1.82,1.5,1.84,1.2,1.86,1.8,1.88,1.4,2.55,4.1,2.58,3.8,2.62,4.4,2.66,3.4,2.7,3.6,2.74,3.7,2.78,4.1,2.84,4.2,2.88,5.4,2.93,5.4,2.6,3.6,2.52,2.9,2.46,2.8,2.4,3.5,2.34,3.1];
const tead4ScPts = [0.9,3.05,0.9,2.2,1.1,2.37,1.19,1.47,1.22,2.24,1.3,1.18,1.32,2.5,1.41,3.25,1.42,2.63,1.49,4.54,1.5,3.82,1.56,4.61,1.58,3.9,1.68,4.61,1.8,3.99,1.83,5.48,1.92,4.12,2.51,7.89,2.54,6.29,2.44,5.99,2.8,6.69,2.8,6.04,3.3,4.1,2.78,1.13,2.67,1.16,2.29,0.32,
1.5,1.5,1.52,0.6,1.55,1.1,1.58,2.0,1.6,0.8,1.62,1.4,1.65,0.5,1.66,1.8,1.68,1.1,1.7,2.4,1.72,0.7,1.73,1.5,1.75,0.4,1.76,1.2,1.78,1.9,1.8,0.9,1.8,1.4,1.82,2.8,1.83,0.6,1.84,1.7,1.85,1.1,1.86,2.3,1.87,0.8,1.88,1.5,1.89,0.35,1.9,1.25,1.9,2.0,1.91,0.95,1.92,1.6,1.93,2.7,1.94,1.1,1.95,0.6,1.95,1.4,1.96,1.9,1.97,0.85,1.98,1.25,1.99,2.4,2.0,1.0,2.0,1.6,2.0,0.5,2.01,1.3,2.02,2.1,2.03,0.8,2.04,1.45,2.05,1.1,2.05,1.8,2.06,0.65,2.07,1.3,2.08,2.6,2.09,0.95,2.1,1.5,2.1,1.15,2.11,0.4,2.12,2.0,2.13,1.3,2.14,0.8,2.15,1.6,2.16,1.05,2.17,2.3,2.18,1.4,2.19,0.7,2.2,1.8,2.2,1.2,2.21,0.9,2.22,1.55,2.23,2.5,2.24,1.1,2.25,0.6,2.26,1.7,2.27,1.3,2.28,2.1,2.3,1.0,2.3,1.6,2.32,0.8,2.33,2.7,2.35,1.3,2.36,0.6,2.38,1.9,2.4,1.1,2.42,0.8,2.44,1.6,2.45,0.65,2.48,1.3,2.5,0.85,1.98,0.35,2.06,0.3,1.7,0.35,1.6,0.3,2.15,0.5,2.25,0.4,
2.0,3.0,2.05,3.3,2.1,2.8,2.15,3.5,2.18,2.6,2.2,3.1,2.25,2.9,2.28,3.6,2.3,2.4,2.32,3.2,2.35,2.7,2.38,3.8,2.4,2.2,2.42,3.4,2.45,2.9,2.48,2.5,2.5,3.6,2.52,2.1,2.55,3.0,2.58,2.4,2.6,2.7,2.62,2.0,2.65,2.5,2.7,2.9,2.75,2.3,2.8,2.1,2.85,2.6,2.9,2.4,2.95,2.7,2.98,3.0,2.12,4.0,2.2,4.3,2.28,4.9,2.35,4.5,2.4,5.2,
2.4,4.0,2.42,4.6,2.44,3.7,2.45,5.0,2.47,4.2,2.48,3.4,2.5,4.8,2.5,4.0,2.52,5.4,2.53,3.8,2.54,4.5,2.55,3.2,2.56,4.9,2.57,4.1,2.58,5.6,2.58,3.6,2.59,4.4,2.6,5.1,2.6,3.9,2.61,4.7,2.62,3.4,2.62,4.2,2.63,5.3,2.64,3.8,2.64,4.6,2.65,4.0,2.66,5.0,2.66,3.5,2.67,4.3,2.68,4.8,2.68,3.7,2.69,5.4,2.7,4.1,2.7,4.5,2.71,3.3,2.72,4.9,2.72,3.9,2.73,5.2,2.74,4.3,2.75,3.6,2.75,4.7,2.76,4.0,2.77,5.0,2.78,3.8,2.78,4.4,2.79,4.8,2.8,3.5,2.8,4.2,2.81,5.3,2.82,4.0,2.83,4.6,2.84,3.7,2.85,5.0,2.85,4.3,2.86,3.9,2.87,4.7,2.88,4.1,2.89,5.2,2.9,4.4,2.9,3.6,2.92,4.0,2.93,4.8,2.95,4.3,2.96,3.9,2.98,4.6,3.0,4.2,3.02,3.8,3.05,4.4,3.08,4.0,2.55,4.3,2.6,4.6,2.65,4.4,2.7,3.8,2.75,4.2,2.8,4.6,2.68,4.1,2.62,3.9,2.72,4.4,2.78,4.0,2.58,4.2,2.48,4.6,2.52,4.3,2.45,4.4,2.38,4.2,2.35,3.9,2.33,4.7,2.88,3.3,2.94,3.3,2.97,3.5,2.83,3.1,
1.85,1.3,1.88,0.9,1.9,1.7,1.92,1.2,1.94,0.7,1.96,1.5,1.98,1.0,2.0,1.3,2.02,0.9,2.04,1.7,2.06,1.2,2.08,0.8,2.1,1.3,2.12,1.0,2.14,1.8,2.16,1.4,2.18,0.9,2.2,1.5,2.22,1.1,2.24,1.9,2.26,1.0,2.28,1.5,2.3,1.2,2.32,2.0,2.34,1.6,1.95,1.1,2.05,1.5,2.15,1.2,2.25,1.3,2.0,0.75,
2.5,4.4,2.55,4.1,2.57,4.7,2.6,4.3,2.62,4.8,2.64,4.1,2.66,4.6,2.68,4.3,2.7,4.8,2.72,4.1,2.74,4.6,2.76,4.4,2.78,4.7,2.8,4.0,2.82,4.4,2.84,4.1,2.86,4.5,2.88,3.8,2.9,4.2,2.92,4.5,2.63,3.6,2.67,3.9,2.71,3.6,2.75,3.9,2.79,3.5,2.83,3.8,2.6,4.0,2.7,4.0,2.8,3.7,2.65,5.2,2.75,5.1,2.85,4.8,2.55,3.7,2.5,3.9,2.58,5.0];

// correlation statistics
const scatterStats = {
  LIHC:["0.45","4.1e-22"], CHOL:["0.71","4.3e-08"], ESCA:["0.5","1.8e-13"], PAAD:["0.69","1.1e-27"], STAD:["0.53","1.1e-33"],
  LGG:["-0.18","2.5e-5"], GBM:["0.092","0.24"], TEAD1:["0.85","0"], TEAD4:["0.65","2.1e-158"]
};

// Kaplan-Meier curves: flat [time, survival%, ...]
const kmYapLow  = [0,100,1,99,2,97.5,3,96,4,94.5,5,93,6,92,7,90.5,8,89.5,9,88,10,86.5,11,85.5,12,84,13,82.5,14,82,15,81,16,80,17,79.5,18,79,19,78,20,77,21,75.5,22,73,23,71,24,69.5,25,68,26,67,27,66,28,65,29,64.5,30,63.5,32,63,34,62,36,61,38,60,40,59.5,42,58.5,44,57.5,46,57,47,56,48,54,50,53.5,52,52.5,54,51,55,49.8,56,48.5,58,47.5,60,46.5,62,45.7,66,45.7,70,44.1,72.8,42.5,82,39.4,84.5,33.2,104.3,27.4,109,21.7,124,21.7];
const kmYapHigh = [0,100,1,99.5,2,98.5,3,97.5,4,96,5,94,6,92.5,7,90.5,8,89,9,86,10,83.5,11,82,12,80.5,13,78,14,76,15,74,16,71.5,17,70,18,68.5,19,67,20,65.5,21,62,22,59,23,56.5,24,54,25,51.5,26,49.5,27,47.5,28,46,30,44.5,32,43.5,34,42.5,36,42,38,41.5,40,41,42,40.5,44,39,45,37.5,46,36,47,34,48,32.5,50,31,52,30,54,28.8,56,28,60.4,22.7,73.5,11.8,85.1,5.7,119.4,5.7];
const kmTet1Low  = [0,100,1,99,2,97.5,3,96.5,4,95,5,94,6,92.5,7,91,8,90,9,88.5,10,87.5,11,86,12,85,13,83.7,14,82,15,80,16,78.5,17,77.5,18,76,19,74.5,20,73.5,21,72,22,70.5,23,69,24,68,25,67,26,66,27,65,28,64.5,30,63.5,32,63,34,62,36,60.5,38,59.5,40,58.5,42,58,44,57.5,46,55.5,47,54,50,53,53,52,55,50.4,57,48.5,59,47,60,46.2,62,46,66,45.5,69.5,44.1,71.8,39.4,81.2,37.9,83.5,31.6,84.7,26.9,109.2,17.5,117.4,17.5];
const kmTet1High = [0,100,1,99.5,2,98.5,3,97,4,95,5,92.5,6,90,7,87,8,84.5,9,82,10,80,11,77.5,12,75,13,72.5,14,70,15,67.5,16,65.5,17,63,18,61,19,58.5,20,56,21,54.5,22,53,23,51.5,24,50,25,48.5,26,47,27,45.5,28,44,29,43,30,42,31,41,32,40.5,36,40,40,39,42,38.5,44,37.5,46,36,47,34,48,31.8,50,30.5,52,29.2,55,28,57,27,58,26,61.3,22.2,74.2,18.6,84.7,14.4,124.4,14.4];
const kmTead1Low  = [0,100,1,99,2,98,3,96.6,4,95.5,5,94,6,93,7,91.5,8,90.5,9,89.5,10,88,11,86.5,12,85,13,84,14,82.5,15,81,16,80,17,78,18,76.5,19,75,20,73.5,21,72,22,70,23,68.5,24,67.3,25,66.5,26,65.8,28,64.7,30,63.5,32,62.6,34,62,36,61.5,38,60.8,40,60.5,42,59.5,44,58.5,45.8,57.4,48.1,53.8,51,53,54,51.7,56.4,48.5,58,47.5,61.1,45.9,64,44.5,66,43,68.2,41.8,71.2,37.6,83.5,33.4,84.7,27.7,104.7,24,108.7,18.8,126,18.8];
const kmTead1High = [0,100,1,99.5,2,98.5,3,97.5,4,97,5,95,6,93,7,91,8,89,9,87,10,85,11,83,12,80,13,77.5,14,74.5,15,72,16,70,17,68.4,18,66.5,19,64.5,20,62,21,59,22,56.5,23,54.5,24,52.5,25,50.5,26,48.5,27,47,28,46,30,44.5,32,43.3,35,43,40,42.8,43.4,42.3,44.5,41,45.8,39.7,47,37.5,48.1,35.5,49.5,34,50.5,32.4,53,31.5,56.4,30.8,58,29,60.4,26.1,74.1,16.2,124.3,16.2];
const kmTead4Low  = [0,100,1,99,2,98,3,97,4,95.5,5,94,6,92.5,7,91,8,89.5,9,88,10,86.7,11,85.5,12,84,13,83,14,82,15,80.5,16,79.5,17,78.8,18,77,19,75,20,73.5,21,72,22,71,23,70,24,68.9,25,68,26,67,27,66.5,28,66,30,65.5,32,65,34.8,64.2,37,62.5,39.5,61.1,42,60,44.2,59,46,57.5,47.8,55.8,50,55,52,54,54.8,52.7,57,51.5,60.8,50.1,64,49.8,70.2,49.1,72.6,46.5,82,42.8,84.4,38.6,85.6,32.9,104.5,26.1,124.6,26.1];
const kmTead4High = [0,100,1,99.5,2,98.5,3,97,4,95.5,5,93.5,6,91.5,7,89,8,86.5,9,84,10,82,11,79.3,12,77,13,74.5,14,72.5,15,71,16,69,17,67.5,18,65.8,19,63.5,20,61.5,21,59,22,57,23,56,24,55.3,25,53,26,50.8,27,49,28,48,29,47.5,32,47,37.1,46.5,40.7,44.9,45.4,42.8,46.6,38.6,48.9,37.6,52,36.5,56,34.4,58,33,59.6,31.3,62,29.5,64.3,28.2,72.6,22.4,125.8,22.4];
// censoring times
const cenYapLow   = [33,34,35,36,37,43,44,45,47,50,51,52,53,55,57,58,62,63,64,65,66,67,68,72,73,74,75,76,77,92,113,116,119];
const cenYapHigh  = [31,32,33,34,35,36,37,38,40,41,42,55,56,57,58,62,64,66,69,119];
const cenTet1Low  = [30,31,32,33,34,35,36,44,45,46,47,50,51,52,53,54,59,60,62,64,66,67,72,74,75,76,77,78,79,85,110,115];
const cenTet1High = [35,36,37,38,39,40,41,43,44,50,51,53,55,56,58,62,64,66,70,92,118,120,122,124];
const cenTead1Low  = [25,26,27,30,31,33,35,37,38,49,50,51,52,55,56,58,60,62,64,70,72,74,76,78,80,86,110,113,117,120,125];
const cenTead1High = [31,33,34,35,36,37,38,40,42,53,55,56,58,62,63,64,66,68,70,82,118,124];
const cenTead4Low  = [29,30,31,32,33,34,35,36,40,41,44,45,46,50,51,52,54,58,59,60,61,62,63,64,65,66,67,68,72,73,74,75,76,80,91,110,115,120,124];
const cenTead4High = [30,31,32,33,34,35,36,37,47,48,49,50,51,52,58,59,60,64,65,76,106,124,125];
const kmLogrankP = ["3.5e-06","2.7e-07","1.7e-05","4.5e-05"];
const groupSizes = [400, 401];

// ================= DRAWING =================
const FONT = "'Liberation Sans', Arial, Helvetica, sans-serif";
const svg = d3.select("#fig");
svg.append("rect").attr("width",1890).attr("height",1999).attr("fill","#fff");

function pairs(flat){ const out=[]; for(let i=0;i<flat.length;i+=2) out.push([flat[i],flat[i+1]]); return out; }

function rich(parent, x, y, parts, o){
  o = o || {};
  const t = parent.append("text")
    .attr("font-family", FONT).attr("font-size", o.size || 20)
    .attr("fill", o.fill || "#111").attr("text-anchor", o.anchor || "start");
  if (o.weight) t.attr("font-weight", o.weight);
  if (o.rotate) t.attr("transform", `translate(${x},${y}) rotate(-90)` + (o.sx ? ` scale(${o.sx},1)` : ""));
  else t.attr("x", x).attr("y", y);
  parts.forEach(p => { const s = t.append("tspan").text(p[0]); if (p[1]) s.attr("font-style","italic"); });
  return t;
}
function styleAxis(sel, fs){
  sel.select(".domain").remove();
  sel.selectAll(".tick line").attr("stroke","#222").attr("stroke-width",1.6);
  sel.selectAll(".tick text").attr("font-size",fs).attr("font-family",FONT).attr("fill","#111");
}

// ---------- panel letters ----------
[["a",4,33],["b",807,29],["c",9,605],["d",9,971],["e",10,1598],["f",859,829]].forEach(d=>{
  svg.append("text").attr("x",d[1]).attr("y",d[2]).text(d[0])
    .attr("font-family",FONT).attr("font-weight","bold").attr("font-size",32).attr("fill","#000");
});

// ---------- box panels ----------
const BOX_W = 33, BOX_OFF = 19.7;
const TUMOR_FILL = "#f20d0d", NORMAL_FILL = "#1212f2";
function boxPanel(o){
  const x = d3.scalePoint().domain(cancers).range([o.x0,o.x1]).padding(0.7);
  const y = d3.scaleLinear().domain(o.domain).range([o.y1,o.y0]);
  const g = svg.append("g");
  g.append("rect").attr("x",o.x0).attr("y",o.y0).attr("width",o.x1-o.x0).attr("height",o.y1-o.y0)
    .attr("fill","none").attr("stroke","#222").attr("stroke-width",2);
  const ay = g.append("g").attr("transform",`translate(${o.x0},0)`)
    .call(d3.axisLeft(y).tickValues(o.ticks).tickFormat(d=>d).tickSize(8).tickPadding(3));
  styleAxis(ay, 22);
  const ax = g.append("g").attr("transform",`translate(0,${o.y1})`)
    .call(d3.axisBottom(x).tickSize(6).tickFormat(""));
  styleAxis(ax, 22);
  rich(g, 87, o.gc, [[o.gene,true]], {size:36, anchor:"middle", rotate:true, sx:0.75});
  cancers.forEach((c,ci)=>{
    [0,1].forEach(k=>{
      const i = ci*2+k;
      const [q1,md,q3,lo,hi] = o.stats[i];
      const cx = x(c) + (k ? BOX_OFF : -BOX_OFF);
      const ln = (x1,y1,x2,y2,w,col)=>g.append("line").attr("x1",x1).attr("y1",y1).attr("x2",x2).attr("y2",y2)
        .attr("stroke",col||"#222").attr("stroke-width",w||1.6);
      ln(cx,y(hi),cx,y(q3)); ln(cx,y(q1),cx,y(lo));
      ln(cx-BOX_W/4,y(hi),cx+BOX_W/4,y(hi)); ln(cx-BOX_W/4,y(lo),cx+BOX_W/4,y(lo));
      g.append("rect").attr("x",cx-BOX_W/2).attr("y",y(q3)).attr("width",BOX_W).attr("height",Math.max(1,y(q1)-y(q3)))
        .attr("fill",k?NORMAL_FILL:TUMOR_FILL).attr("stroke","#333").attr("stroke-width",1.4);
      ln(cx-BOX_W/2,y(md),cx+BOX_W/2,y(md),1.4,"#333");
      if (o.zero[i]) ln(cx-BOX_W/2,y(0),cx+BOX_W/2,y(0),2.6,"#111");
      o.pts[i].forEach((v,j)=>{
        const jx = (((j*0.618034)%1)-0.5)*BOX_W*0.42;
        g.append("rect").attr("x",cx+jx-1.3).attr("y",y(v)-1.3).attr("width",2.6).attr("height",2.6).attr("fill","#111");
      });
    });
  });
}
function legendTN(yc){
  svg.append("rect").attr("x",452).attr("y",yc-4.5).attr("width",27).attr("height",9).attr("fill","#e8352b");
  svg.append("text").attr("x",485).attr("y",yc+9.5).text("Tumor").attr("font-family",FONT).attr("font-size",28).attr("fill","#e6302a");
  svg.append("rect").attr("x",595).attr("y",yc-4.5).attr("width",27).attr("height",9).attr("fill","#3452b2");
  svg.append("text").attr("x",629).attr("y",yc+9.5).text("Normal").attr("font-family",FONT).attr("font-size",28).attr("fill","#2e4ea6");
}
function catLabels(base){
  const lx = d3.scalePoint().domain(cancers).range([196.5,676.5]);
  cancers.forEach((c,i)=>{
    svg.append("text").attr("x",lx(c)).attr("y",base).attr("text-anchor","middle").text(c)
      .attr("font-family",FONT).attr("font-size",28).attr("fill","#111");
    svg.append("text").attr("x",lx(c)).attr("y",base+30).attr("text-anchor","middle").text(`(T:${tumorN[i]})`)
      .attr("font-family",FONT).attr("font-size",25).attr("fill","#e8232b");
    svg.append("text").attr("x",lx(c)).attr("y",base+61).attr("text-anchor","middle").text(`(N:${normalN[i]})`)
      .attr("font-family",FONT).attr("font-size",25).attr("fill","#2b48a0");
  });
}

boxPanel({x0:121,x1:751,y0:19,y1:232,domain:[-0.41,10.92],ticks:[0,4,8],gene:"YAP",gc:143,stats:yapStats,pts:yapPts,zero:yapZero});
boxPanel({x0:121,x1:751,y0:247,y1:461,domain:[-0.47,11.54],ticks:[0,4,8],gene:"TAZ",gc:369,stats:tazStats,pts:tazPts,zero:tazZero});
legendTN(46);
catLabels(495);
boxPanel({x0:121,x1:751,y0:1012,y1:1225,domain:[-0.26,7.21],ticks:[0,2,4,6],gene:"TEAD1",gc:1138,stats:tead1Stats,pts:tead1Pts,zero:tead1Zero});
boxPanel({x0:121,x1:751,y0:1239,y1:1453,domain:[-0.33,8.54],ticks:[0,2,4,6,8],gene:"TEAD4",gc:1370,stats:tead4Stats,pts:tead4Pts,zero:tead4Zero});
legendTN(983);
catLabels(1492);

// ---------- scatter panels ----------
function scatter(o){
  const x = d3.scaleLinear().domain(o.xd).range([o.x0,o.x1]);
  const y = d3.scaleLinear().domain(o.yd).range([o.y1,o.y0]);
  const g = svg.append("g");
  g.append("rect").attr("x",o.x0).attr("y",o.y0).attr("width",o.x1-o.x0).attr("height",o.y1-o.y0)
    .attr("fill","none").attr("stroke","#222").attr("stroke-width",1.6);
  const ay = g.append("g").attr("transform",`translate(${o.x0},0)`)
    .call(d3.axisLeft(y).tickValues(o.yt).tickFormat(d=>d).tickSize(6).tickPadding(4));
  styleAxis(ay, 21);
  const ax = g.append("g").attr("transform",`translate(0,${o.y1})`)
    .call(d3.axisBottom(x).tickValues(o.xt).tickFormat(d=>d).tickSize(6).tickPadding(o.xtb-o.y1-6-15));
  styleAxis(ax, 21);
  if (o.title) g.append("text").attr("x",o.tx).attr("y",o.tb).attr("text-anchor","middle").text(o.title)
    .attr("font-family",FONT).attr("font-size",28).attr("fill","#111");
  const st = scatterStats[o.key];
  rich(g, o.rx, o.rb, [["R = "+st[0],false]], {size:25});
  rich(g, o.rx, o.pb, [["P",true],[" = "+st[1],false]], {size:25});
  rich(g, o.xTitleX, o.xTitleB, [["YAP/TAZ",true],[" expression",false]], {size:25, anchor:"middle"});
  rich(g, o.yTitleB, o.yTitleC, [[o.gene,true],[" expression",false]], {size:25, anchor:"middle", rotate:true});
  const s = o.r;
  g.selectAll(null).data(pairs(o.pts)).enter().append("rect")
    .attr("x",d=>x(d[0])-s).attr("y",d=>y(d[1])-s).attr("width",2*s).attr("height",2*s)
    .attr("rx",o.round?s:0.4).attr("fill","#111");
}

const scatterCfg = [
  {key:"LIHC",pts:lihcPts,x0:1071,x1:1346,y0:43,y1:309,xd:[0.822,2.936],yd:[-0.075,1.866],xt:[1,1.5,2,2.5],yt:[0,0.5,1,1.5],title:"LIHC",tx:1211,tb:34,gene:"TET1",rx:1083,rb:71,pb:100,xtb:338,xTitleX:1208,xTitleB:366,yTitleB:1020,yTitleC:191,r:1.8},
  {key:"CHOL",pts:cholPts,x0:1447,x1:1732,y0:43,y1:309,xd:[1.416,2.951],yd:[-0.033,1.208],xt:[1.6,2,2.4,2.8],yt:[0,0.4,0.8,1.2],title:"CHOL",tx:1600,tb:34,gene:"TET1",rx:1471,rb:71,pb:100,xtb:338,xTitleX:1597,xTitleB:366,yTitleB:1402,yTitleC:191,r:1.8},
  {key:"ESCA",pts:escaPts,x0:874,x1:1153,y0:439,y1:703,xd:[1.826,3.358],yd:[-0.098,3.02],xt:[2,2.4,2.8,3.2],yt:[0,1,2,3],title:"ESCA",tx:1018,tb:428,gene:"TET1",rx:892,rb:467,pb:497,xtb:737,xTitleX:1016,xTitleB:761,yTitleB:846,yTitleC:586,r:1.8},
  {key:"PAAD",pts:paadPts,x0:1255,x1:1530,y0:439,y1:703,xd:[1.235,3.033],yd:[-0.0095,0.747],xt:[1.5,2,2.5,3],yt:[0,0.2,0.4,0.6],title:"PAAD",tx:1397,tb:428,gene:"TET1",rx:1267,rb:467,pb:497,xtb:737,xTitleX:1395,xTitleB:761,yTitleB:1208,yTitleC:586,r:1.8},
  {key:"STAD",pts:stadPts,x0:1613,x1:1887,y0:439,y1:703,xd:[1.42,3.153],yd:[-0.042,2.72],xt:[1.5,2,2.5,3],yt:[0,1,2],title:"STAD",tx:1755,tb:428,gene:"TET1",rx:1625,rb:467,pb:497,xtb:737,xTitleX:1753,xTitleB:761,yTitleB:1587,yTitleC:586,r:1.8},
  {key:"LGG",pts:lggPts,x0:150,x1:393,y0:631,y1:865,xd:[0.714,3.023],yd:[-0.02,2.695],xt:[1,2,3],yt:[0,1,2],title:"LGG",tx:269,tb:621,gene:"TET1",rx:165,rb:655,pb:685,xtb:891,xTitleX:267,xTitleB:918,yTitleB:116,yTitleC:748,r:2.0,round:true},
  {key:"GBM",pts:gbmPts,x0:490,x1:732,y0:631,y1:865,xd:[1.408,2.889],yd:[-0.037,2.126],xt:[1.6,2,2.4,2.8],yt:[0,1,2],title:"GBM",tx:608,tb:621,gene:"TET1",rx:506,rb:655,pb:685,xtb:891,xTitleX:606,xTitleB:918,yTitleB:456,yTitleC:748,r:2.0,round:true},
  {key:"TEAD1",pts:tead1ScPts,x0:121,x1:456,y0:1612,y1:1932,xd:[0.809,3.409],yd:[-0.2,6.86],xt:[1,2,3],yt:[0,2,4,6],title:null,gene:"TEAD1",rx:132,rb:1640,pb:1670,xtb:1960,xTitleX:277,xTitleB:1988,yTitleB:83,yTitleC:1772,r:2.7,round:true},
  {key:"TEAD4",pts:tead4ScPts,x0:554,x1:887,y0:1612,y1:1932,xd:[0.8,3.378],yd:[-0.02,8.145],xt:[1,2,3],yt:[0,2,4,6,8],title:null,gene:"TEAD4",rx:565,rb:1640,pb:1670,xtb:1960,xTitleX:710,xTitleB:1988,yTitleB:523,yTitleC:1772,r:2.7,round:true}
];
scatterCfg.forEach(scatter);

// ---------- survival panels ----------
const BLUE = "#1414ff", RED = "#ff1010";
function survPanel(o){
  const x = d3.scaleLinear().domain([0,128]).range([o.x0,o.x1]);
  const y = d3.scaleLinear().domain([-4,104]).range([o.y1,o.y0]);
  const g = svg.append("g");
  g.append("rect").attr("x",o.x0).attr("y",o.y0).attr("width",o.x1-o.x0).attr("height",o.y1-o.y0)
    .attr("fill","none").attr("stroke","#222").attr("stroke-width",2);
  const ay = g.append("g").attr("transform",`translate(${o.x0},0)`)
    .call(d3.axisLeft(y).tickValues([0,20,40,60,80,100]).tickFormat(d=>d).tickSize(8).tickPadding(4));
  styleAxis(ay, 21);
  const ax = g.append("g").attr("transform",`translate(0,${o.y1})`)
    .call(d3.axisBottom(x).tickValues([0,40,80,120]).tickFormat(d=>d).tickSize(7).tickPadding(o.xtOff-7-15));
  styleAxis(ax, 21);
  const line = d3.line().x(d=>x(d[0])).y(d=>y(d[1])).curve(d3.curveStepAfter);
  const survAt = (c,t)=>{ let s=c[0][1]; c.forEach(p=>{ if(p[0]<=t) s=p[1]; }); return s; };
  [[pairs(o.high),o.cenHigh,RED],[pairs(o.low),o.cenLow,BLUE]].forEach(([c,cen,col])=>{
    g.append("path").attr("d",line(c)).attr("fill","none").attr("stroke",col).attr("stroke-width",2.8);
    cen.forEach(t=>{
      const yy = y(survAt(c,t));
      g.append("line").attr("x1",x(t)).attr("x2",x(t)).attr("y1",yy-6).attr("y2",yy+6)
        .attr("stroke",col).attr("stroke-width",1.8);
    });
  });
  rich(g, o.x1-9, o.y0+o.l1, [[o.gene,true],[" expression",false]], {size:28, anchor:"end"});
  [["Low",groupSizes[0],BLUE,o.l2,o.s2],["High",groupSizes[1],RED,o.l3,o.s3]].forEach(([lab,n,col,b,sc])=>{
    g.append("line").attr("x1",o.x0+174).attr("x2",o.x0+184).attr("y1",o.y0+sc).attr("y2",o.y0+sc)
      .attr("stroke",col).attr("stroke-width",8).attr("stroke-linecap","round");
    rich(g, o.x0+195, o.y0+b, [[`${lab} (n=${n})`,false]], {size:26, fill:col});
  });
  rich(g, o.x0+11, o.y1-46, [["Logrank",false]], {size:28});
  rich(g, o.x0+11, o.y1-12, [["P",true],[" = "+o.p,false]], {size:28});
  rich(g, x(60), o.y1+58, [["Time (months)",false]], {size:25, anchor:"middle"});
  rich(g, o.x0-54, (o.y0+o.y1)/2+14, [["overall survival (%)",false]], {size:24, anchor:"middle", rotate:true});
}
const topRow = {y0:842,y1:1187,l1:31,l2:64,l3:96.5,s2:56,s3:89,xtOff:31};
const botRow = {y0:1288,y1:1633,l1:35,l2:70.5,l3:105,s2:62,s3:97,xtOff:32};
survPanel(Object.assign({x0:1018,x1:1380,gene:"YAP/TAZ",p:kmLogrankP[0],low:kmYapLow,high:kmYapHigh,cenLow:cenYapLow,cenHigh:cenYapHigh},topRow));
survPanel(Object.assign({x0:1508,x1:1871,gene:"TET1",p:kmLogrankP[1],low:kmTet1Low,high:kmTet1High,cenLow:cenTet1Low,cenHigh:cenTet1High},topRow));
survPanel(Object.assign({x0:1017,x1:1380,gene:"TEAD1",p:kmLogrankP[2],low:kmTead1Low,high:kmTead1High,cenLow:cenTead1Low,cenHigh:cenTead1High},botRow));
survPanel(Object.assign({x0:1508,x1:1871,gene:"TEAD4",p:kmLogrankP[3],low:kmTead4Low,high:kmTead4High,cenLow:cenTead4Low,cenHigh:cenTead4High},botRow));
</script>
</body>
</html>
